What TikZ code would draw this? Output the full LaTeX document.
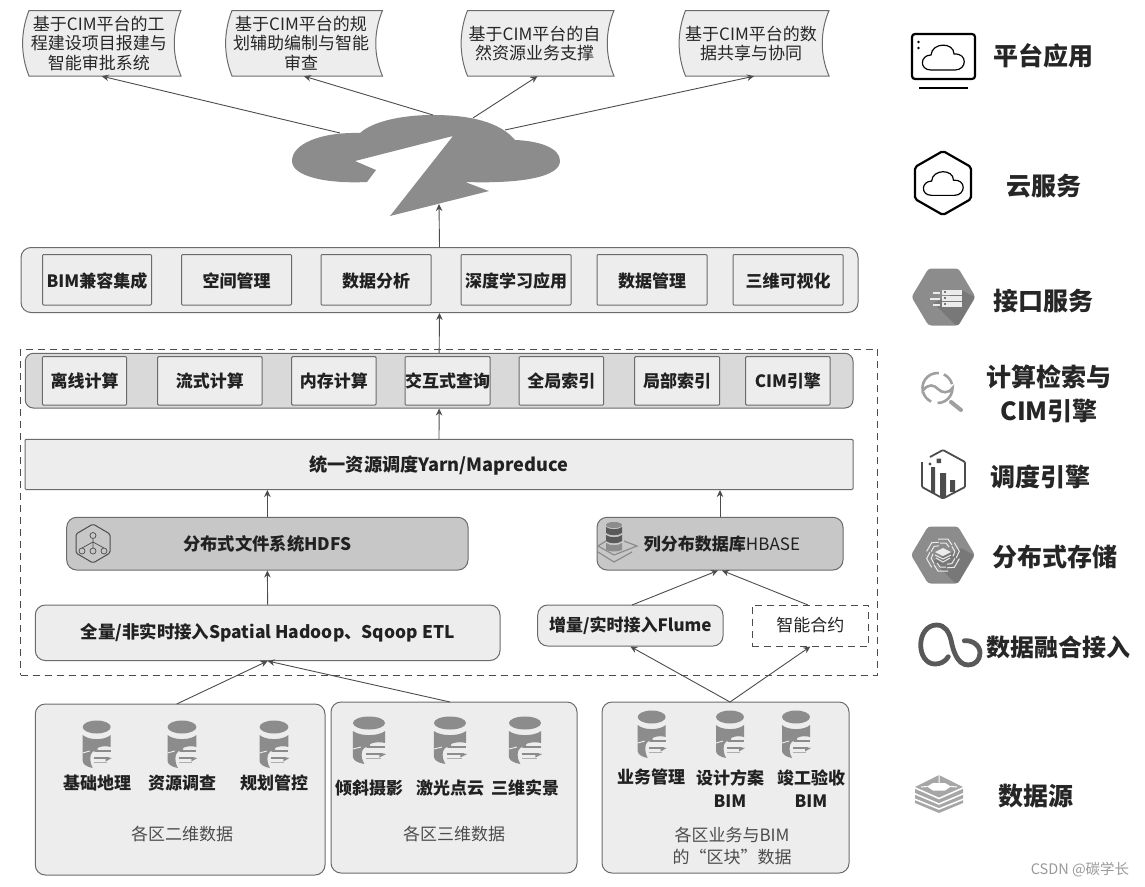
\documentclass[tikz,border=0pt]{standalone}
\usepackage{fontspec}
\setmainfont{Noto Sans CJK SC}
\usetikzlibrary{arrows.meta,calc}
\definecolor{edgegray}{gray}{0.42}
\definecolor{arrowgray}{gray}{0.30}
\definecolor{panelgray}{gray}{0.93}
\definecolor{midgray}{gray}{0.85}
\definecolor{darkpanel}{gray}{0.78}
\definecolor{icongray}{gray}{0.55}
\definecolor{shadegray}{gray}{0.47}
\definecolor{paper}{gray}{0.92}
\definecolor{txtgray}{gray}{0.13}
\definecolor{capgray}{gray}{0.30}
\tikzset{
  base/.style={draw=edgegray,line width=1pt,inner sep=0pt,align=center,text=txtgray,font=\fontsize{17}{21}\selectfont\bfseries},
  panel/.style={base,fill=panelgray,rounded corners=10pt},
  sq/.style={base,fill=panelgray,rounded corners=1pt},
  midpanel/.style={base,fill=midgray,rounded corners=8pt},
  darkp/.style={base,fill=darkpanel,rounded corners=10pt},
  dash box/.style={base,draw=arrowgray,dash pattern=on 7pt off 5pt,font=\fontsize{17}{21}\selectfont},
  conn/.style={draw=arrowgray,line width=0.9pt,-{Stealth[length=7pt,width=6.5pt]}},
  lab/.style={inner sep=0pt,align=center,text=txtgray,font=\fontsize{17}{21}\selectfont\bfseries},
  captext/.style={inner sep=0pt,align=center,text=capgray,font=\fontsize{17}{22}\selectfont},
  doctext/.style={inner sep=0pt,align=center,text=black!85,font=\fontsize{17}{19.3}\selectfont},
  side/.style={inner sep=0pt,align=center,text=black!85,font=\fontsize{25}{34}\selectfont\bfseries},
  hexline/.style={draw=black,line width=2.2pt,rounded corners=2pt,line join=round},
}
% text set with its baseline a given distance below the node centre
\newcommand{\dn}[2][7.4pt]{\raisebox{-#1}[0pt][0pt]{#2}}
% box by corners
\newcommand{\bx}[7]{%
  \pgfmathsetmacro{\cxv}{(#3+#5)/2}\pgfmathsetmacro{\cyv}{(#4+#6)/2}%
  \pgfmathsetmacro{\wv}{#5-#3}\pgfmathsetmacro{\hv}{#6-#4}%
  \node[#2,minimum width=\wv pt,minimum height=\hv pt] (#1) at (\cxv,\cyv) {#7};}
% curved document
\newcommand{\docshape}[5]{% name x1 x2 offset text
  \draw[draw=edgegray,line width=1pt,fill=panelgray]
    (#2+6.5,10.5) -- (#3,10.5) .. controls (#3-9,32) and (#3-9,55) .. (#3,76)
    -- (#2+6.5,76) .. controls (#2-2,55) and (#2-2,32) .. (#2+6.5,10.5) -- cycle;
  \pgfmathsetmacro{\cxv}{(#2+#3)/2}\pgfmathsetmacro{\wv}{#3-#2}
  \node[minimum width=\wv pt,minimum height=65.5pt,inner sep=0pt] (#1) at (\cxv,43.25) {};
  \node[doctext] (#1t) at (\cxv+#4,43.25) {#5};}
% database icon
\newcommand{\dbicon}[3]{% x y xscale
  \begin{scope}[shift={(#1,#2)},xscale=#3]
    \fill[icongray] (0,7) ellipse [x radius=14pt,y radius=6.5pt];
    \fill[icongray] (-14,15) .. controls (-8,20.5) and (8,20.5) .. (14,15) -- (14,27)
       .. controls (6,24.5) and (-3,28) .. (-6,35) .. controls (-7,40) and (-6,44) .. (-4,48)
       .. controls (-10,47) and (-14,44) .. (-14,41) -- cycle;
    \draw[panelgray,line width=0.9pt] (-14,33) -- (-7,31);
    \draw[icongray,line width=1.7pt] (-2,31) -- (14,31);
    \draw[icongray,line width=1.7pt] (-3,38) -- (12,38);
    \fill[icongray] (-5,31) -- (1,27.5) -- (1,32) -- cycle;
    \fill[icongray] (15,38) -- (9,37) -- (9,41.5) -- cycle;
    \draw[icongray!70,line width=1.2pt] (-3,42.5) -- (10,42.5);
  \end{scope}}
\newcommand{\hexflat}[2]{% x y filled hexagon with lower right shade
  \fill[icongray,rounded corners=3pt] (#1-32,#2) -- (#1-15,#2-28.5) -- (#1+15,#2-28.5) -- (#1+32,#2) -- (#1+15,#2+28.5) -- (#1-15,#2+28.5) -- cycle;
  \fill[shadegray,rounded corners=1pt] (#1-10,#2+6) -- (#1+18,#2-7) -- (#1+31,#2) -- (#1+15,#2+28) -- (#1+12,#2+28) -- cycle;}
\newcommand{\cloudicon}[3]{% x y scale
  \draw[line width=1.2pt,black,shift={(#1,#2)},scale=#3] (-12,13) .. controls (-24,13) and (-23,-2) .. (-12,-2)
    .. controls (-11,-15) and (11,-15) .. (11,-3) .. controls (25,-4) and (24,13) .. (12,13) -- cycle;}
\begin{document}
\begin{tikzpicture}[x=1pt,y=-1pt]
\useasboundingbox (0,0) rectangle (1145,886);

% top documents
\docshape{d1}{22.5}{181}{-3}{基于CIM平台的工\\程建设项目报建与\\智能审批系统}
\docshape{d2}{225.5}{382.5}{-3}{基于CIM平台的规\\划辅助编制与智能\\审查}
\docshape{d3}{461}{614}{-3}{基于CIM平台的自\\然资源业务支撑}
\docshape{d4}{679}{829}{-3}{基于CIM平台的数\\据共享与协同}

% cloud
\fill[icongray] (390,216) -- (453,136) -- (355,161) -- (376,170) -- (367,182)
  .. controls (325,184) and (292,176) .. (292,161)
  .. controls (292,144) and (320,132) .. (360,133)
  .. controls (372,122) and (400,115) .. (433,115)
  .. controls (470,115) and (500,122) .. (515,140)
  .. controls (540,141) and (560,148) .. (560,161)
  .. controls (560,176) and (525,184) .. (465,182)
  -- (489,191) -- cycle;
\coordinate (c1) at (340,133);
\coordinate (c2) at (433,115);
\coordinate (c3) at (473,118);
\coordinate (c4) at (505,130);
\coordinate (c5) at (439,204);

% panel 1
\bx{p1}{panel}{21}{247.5}{858}{312.5}{}
\bx{a1}{sq}{42.5}{254.5}{151.5}{305}{\dn{BIM兼容集成}}
\bx{a2}{sq}{181.5}{254.5}{291.5}{305}{\dn{空间管理}}
\bx{a3}{sq}{321}{254.5}{431}{305}{\dn{数据分析}}
\bx{a4}{sq}{461}{254.5}{571}{305}{\dn{深度学习应用}}
\bx{a5}{sq}{597}{254.5}{707}{305}{\dn{数据管理}}
\bx{a6}{sq}{733}{254.5}{843}{305}{\dn{三维可视化}}

% dashed frame
\bx{frame}{dash box}{20.7}{349}{877.7}{675}{}

% panel 2
\bx{p2}{midpanel}{25.3}{353.3}{853}{408}{}
\bx{b1}{sq}{42.3}{356.7}{126.7}{405}{\dn[6.7pt]{离线计算}}
\bx{b2}{sq}{157.7}{356.7}{262}{405}{\dn[6.7pt]{流式计算}}
\bx{b3}{sq}{291.7}{356.7}{376}{405}{\dn[6.7pt]{内存计算}}
\bx{b4}{sq}{405}{356.7}{490}{405}{\dn[6.7pt]{交互式查询}}
\bx{b5}{sq}{519}{356.7}{603.7}{405}{\dn[6.7pt]{全局索引}}
\bx{b6}{sq}{634.7}{356.7}{719.7}{405}{\dn[6.7pt]{局部索引}}
\bx{b7}{sq}{745.7}{356.7}{830}{405}{\dn[6.7pt]{CIM引擎}}

\bx{yarn}{sq,font=\fontsize{18.2}{21}\selectfont\bfseries}{25}{439.3}{853}{489.5}{\dn[6.8pt]{统一资源调度Yarn/Mapreduce}}
\bx{hdfs}{darkp,font=\fontsize{17.3}{21}\selectfont\bfseries}{66.7}{517.3}{468}{570}{\dn[6.6pt]{分布式文件系统HDFS}}
\bx{hbase}{darkp}{597}{517.3}{843}{570}{}
\node[lab] (hbaset) at (722,544.5) {列分布数据库\mdseries HBASE};
\bx{etl}{panel,font=\fontsize{17.4}{21}\selectfont\bfseries}{35.3}{605}{500}{660.5}{全量/非实时接入Spatial Hadoop、Sqoop ETL}
\bx{flume}{panel}{537.7}{605}{723}{646}{增量/实时接入Flume}
\bx{smart}{dash box}{752}{605}{868.7}{646}{智能合约}

% HDFS icon
\draw[draw=arrowgray,line width=1pt,rounded corners=1.5pt] (93,524) -- (110,534) -- (110,553) -- (93,563) -- (76,553) -- (76,534) -- cycle;
\draw[arrowgray,line width=0.7pt] (93,535.5) circle (3pt) (82,551) circle (3pt) (93,551) circle (3pt) (104,551) circle (3pt)
  (93,539) -- (93,548) (93,542) -- (82,548) (93,542) -- (104,548);
% HBASE icon
\fill[icongray] (614,525) ellipse [x radius=8pt,y radius=3pt];
\fill[gray!70!black] (606,527) .. controls (610,530) and (618,530) .. (622,527) -- (622,533) .. controls (618,536) and (610,536) .. (606,533) -- cycle;
\fill[gray!70!black] (606,535) .. controls (610,538) and (618,538) .. (622,535) -- (622,541) .. controls (618,544) and (610,544) .. (606,541) -- cycle;
\fill[icongray] (606,543) .. controls (610,546) and (618,546) .. (622,543) -- (622,550) .. controls (618,552) and (610,552) .. (606,550) -- cycle;
\draw[icongray,line width=1.2pt] (606,541) -- (598,546) -- (614,555) -- (637,546) -- (624,541);
\draw[icongray,line width=1.2pt] (598,552) -- (614,562) -- (632,552);

% bottom boxes
\bx{s1}{panel}{35.3}{704}{325}{875}{}
\bx{s2}{panel}{331}{702}{577}{873}{}
\bx{s3}{panel}{602}{702}{849}{873}{}
\coordinate (s1a) at (176.7,704);
\coordinate (s2a) at (450,702);
\coordinate (s3a) at (730,702);

\dbicon{96.7}{720}{1}\dbicon{182}{720}{1.03}\dbicon{274}{720}{1.03}
\dbicon{369}{716}{1.15}\dbicon{450}{716}{1.15}\dbicon{525}{716}{1.15}
\dbicon{651.7}{710}{1}\dbicon{730}{710}{1}\dbicon{796}{710}{1}

\node[lab] (t1) at (97,783) {基础地理};
\node[lab] (t2) at (182,783) {资源调查};
\node[lab] (t3) at (274,783) {规划管控};
\node[lab] (t4) at (369,788) {倾斜摄影};
\node[lab] (t5) at (450,788) {激光点云};
\node[lab] (t6) at (525,788) {三维实景};
\node[lab] (t7) at (651,777) {业务管理};
\node[lab,font=\fontsize{17}{23}\selectfont\bfseries] (t8) at (730,788.5) {设计方案\\BIM};
\node[lab,font=\fontsize{17}{23}\selectfont\bfseries] (t9) at (811,788.5) {竣工验收\\BIM};
\node[captext] (c21) at (182,834) {各区二维数据};
\node[captext] (c22) at (454,834) {各区三维数据};
\node[captext] (c23) at (732,846) {各区业务与BIM\\的“区块”数据};

% connectors
\draw[conn] (c1) -- (d1.south);
\draw[conn] (c2) -- (d2.south);
\draw[conn] (c3) -- (d3.south);
\draw[conn] (c4) -- (d4.south);
\draw[conn] (p1.north) -- (c5);
\draw[conn] (p2.north) -- (p1.south);
\draw[conn] (yarn.north) -- (p2.south);
\draw[conn] (hdfs.north) -- (hdfs.north |- yarn.south);
\draw[conn] (hbase.north) -- (hbase.north |- yarn.south);
\draw[conn] (etl.north) -- (hdfs.south);
\coordinate (fl) at (632,605);
\coordinate (sm) at (808,605);
\draw[conn] (fl) -- ($(hbase.south)+(-2,0)$);
\draw[conn] (sm) -- ($(hbase.south)+(2,0)$);
\draw[conn] (s1a) -- (etl.south);
\draw[conn] (s2a) -- (etl.south);
\draw[conn] (s3a) -- (flume.south);
\draw[conn] (s3a) -- (smart.south);

% legend: platform application
\draw[draw=black,line width=2.2pt,rounded corners=3pt] (912,34) rectangle (975,79);
\draw[black,line width=2.2pt] (919,88) -- (968,88);
\fill (918.5,42) circle (1.3pt) (918.5,48) circle (1.3pt);
\cloudicon{943}{57}{1}
\node[side] (l1) at (1043,56) {平台应用};
% cloud service
\draw[hexline] (943,151) -- (971,167) -- (971,199) -- (943,215) -- (915,199) -- (915,167) -- cycle;
\cloudicon{943}{183}{0.95}
\node[side] (l2) at (1044,186) {云服务};
% interface service
\hexflat{943.5}{297}
\foreach \yy/\xa in {290/933,296/930,302/933}{
  \fill[paper] (942,\yy) rectangle (962,\yy+4.6);
  \fill[shadegray] (943.5,\yy+1.3) rectangle (945.5,\yy+3.3);
  \fill[paper] (\xa,\yy+2) rectangle (939.5,\yy+3.8);}
\node[side] (l3) at (1043,301) {接口服务};
% search
\begin{scope}[gray!75,line width=2.6pt]
  \draw (937.5,388) ++(85:15pt) arc (85:190:15pt) .. controls (929,383) and (934,385) .. (938,389) .. controls (942,393) and (948,394) .. (952.5,388)
     arc (0:-90:15pt);
  \draw (937.5,388) ++(65:15pt) arc (65:15:15pt);
  \draw (937.5,388) ++(-115:15pt) arc (-115:-165:15pt);
\end{scope}
\draw[gray!75,line width=4pt,line cap=round] (951,402) -- (961,410);
\node[side] (l4) at (1049,394) {计算检索与\\CIM引擎};
% scheduling
\draw[draw=black!70,line width=1.8pt,rounded corners=1pt] (930,457) -- (943,450) -- (965,462) -- (965,487) -- (943,498.5) -- (922,487) -- (922,462);
\fill[black!70] (931,467) rectangle (935,493) (940,473) rectangle (946,497) (950,480) rectangle (955,492);
\fill[black!70] (930,464) circle (1.6pt) (936.5,458.5) rectangle (941,463);
\node[side] (l5) at (1040,477) {调度引擎};
% storage
\hexflat{943}{555}
\foreach \rr in {0,60,...,300}{
  \begin{scope}[shift={(943,555)},rotate=\rr]
    \draw[paper,line width=1pt] (-5,-16) -- (5,-16) -- (9,-10) (-3,-12) -- (3,-12) -- (6,-8);
  \end{scope}}
\fill[paper] (943,548) -- (951,552) -- (943,556) -- (935,552) -- cycle;
\draw[paper,line width=1pt] (935,555) -- (943,559) -- (951,555) (936,558) -- (943,562) -- (950,558);
\node[side] (l6) at (1055,557) {分布式存储};
% fusion loop
\draw[black!65,line width=4.8pt,line cap=round] (948.3,656.7) .. controls (945,662) and (940,664) .. (935,664)
  .. controls (926,664) and (920.7,655) .. (920.7,645) .. controls (920.7,634) and (927,625) .. (936.7,625)
  .. controls (945,625) and (949,632) .. (951,640) .. controls (953,650) and (957,665) .. (968.3,665)
  .. controls (975,665) and (980,660) .. (980,653) .. controls (980,645) and (972,640) .. (964.3,640.7);
\node[side,font=\fontsize{24}{30}\selectfont\bfseries] (l7) at (1058,647) {数据融合接入};
% data source
\fill[gray!70] (939,775) -- (963,787) -- (963,803) -- (939,813) -- (915,803) -- (915,787) -- cycle;
\draw[white,line width=1.5pt] (913,787) -- (939,798.5) -- (965,787) (913,793) -- (939,804) -- (965,793) (913,798.5) -- (939,809) -- (965,798.5);
\fill[white] (927,786.5) -- (933,783) -- (945,783) -- (951,786.5) -- (945,790.5) -- (933,790.5) -- cycle;
\draw[white,line width=1pt] (939,775) -- (939,783) (921,787) -- (927,786.5) (957,787) -- (951,786.5);
\node[side] (l8) at (1036,796) {数据源};
\node[inner sep=0pt,text=gray!80,font=\fontsize{14.5}{16}\selectfont] (wm) at (1080,870) {CSDN @碳学长};
\end{tikzpicture}
\end{document}
